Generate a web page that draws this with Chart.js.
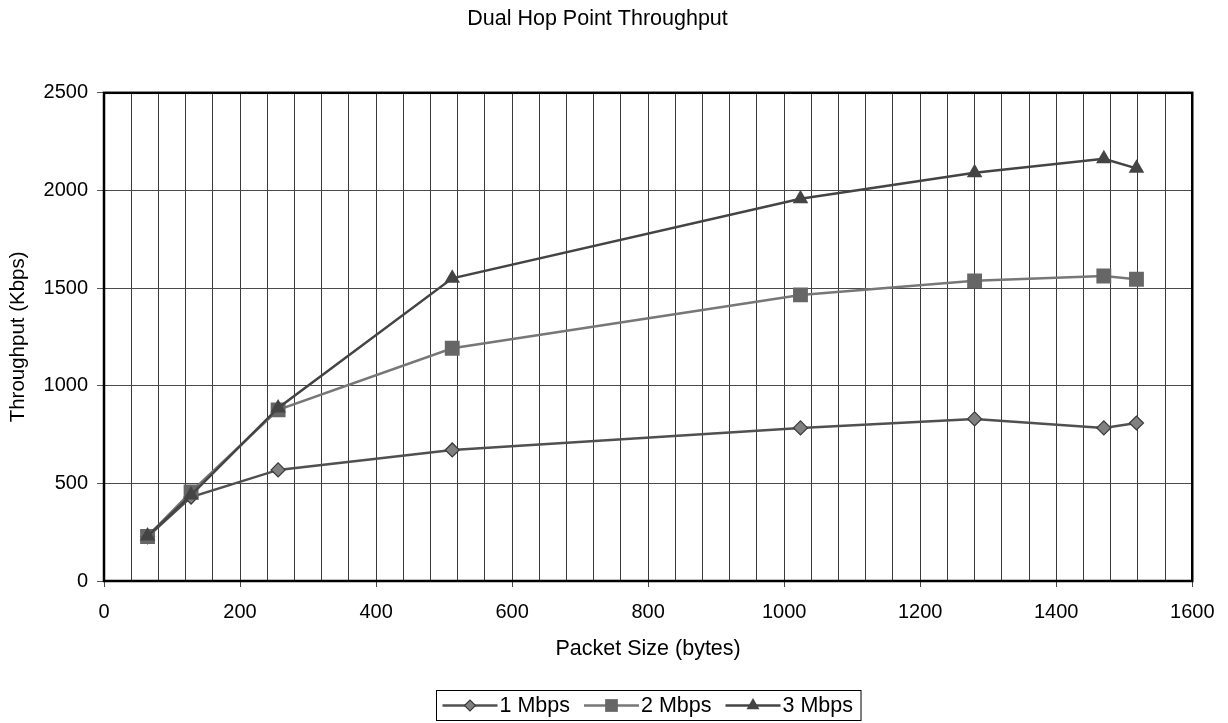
<!DOCTYPE html>
<html>
<head>
<meta charset="utf-8">
<script src="https://cdn.jsdelivr.net/npm/chart.js@4.4.1/dist/chart.umd.min.js"></script>
<style>
  html, body { margin: 0; padding: 0; background: #ffffff; }
  #wrap { width: 1228px; height: 723px; position: relative; }
</style>
</head>
<body>
<div id="wrap"><canvas id="c" width="1228" height="723"></canvas></div>
<script>
// ---- data ----
const packetSizes = [64, 128, 256, 512, 1024, 1280, 1470, 1518];
const seriesNames = ['1 Mbps', '2 Mbps', '3 Mbps'];
const mbps1 = [226, 430, 569, 671, 784, 830, 784, 809];
const mbps2 = [228, 456, 876, 1192, 1465, 1537, 1562, 1545];
const mbps3 = [230, 440, 886, 1550, 1957, 2090, 2162, 2113];
const xTickLabels = [0, 200, 400, 600, 800, 1000, 1200, 1400, 1600];
const yTickLabels = [0, 500, 1000, 1500, 2000, 2500];
const xGridStep = 40;

const FONT = "'Liberation Sans', Arial, sans-serif";

const styles = [
  { line: '#505050', fill: '#808080', border: '#3a3a3a', pointStyle: 'rectRot', radius: 7, legendRadius: 5.5, borderW: 1.2 },
  { line: '#777777', fill: '#666666', border: '#666666', pointStyle: 'rect', radius: 10.5, legendRadius: 9, borderW: 0 },
  { line: '#444444', fill: '#444444', border: '#444444', pointStyle: 'triangle', radius: 9, legendRadius: 7.5, borderW: 0 }
];
const seriesValues = [mbps1, mbps2, mbps3];

function toPoints(vals) { return packetSizes.map((x, i) => ({ x: x, y: vals[i] })); }

const datasets = seriesValues.map((vals, i) => ({
  label: seriesNames[i],
  data: toPoints(vals),
  borderColor: styles[i].line,
  borderWidth: 2.5,
  backgroundColor: styles[i].fill,
  pointStyle: styles[i].pointStyle,
  pointRadius: styles[i].radius,
  pointHoverRadius: styles[i].radius,
  pointBackgroundColor: styles[i].fill,
  pointBorderColor: styles[i].border,
  pointBorderWidth: styles[i].borderW,
  tension: 0,
  order: 3 - i
}));

const framePlugin = {
  id: 'frame',
  beforeDatasetsDraw(chart) {
    const { ctx, chartArea: a } = chart;
    ctx.save();
    ctx.strokeStyle = '#000000';
    ctx.lineWidth = 2.5;
    ctx.strokeRect(a.left, a.top, a.right - a.left, a.bottom - a.top);
    ctx.restore();
  }
};

const legendPlugin = {
  id: 'boxLegend',
  afterDraw(chart) {
    const ctx = chart.ctx;
    const a = chart.chartArea;
    ctx.save();
    ctx.font = '21.5px ' + FONT;
    const lineLen = 55, gapLT = 2, gapItem = 14, padL = 6, padR = 8;
    const widths = seriesNames.map(n => ctx.measureText(n).width);
    let total = padL + padR;
    widths.forEach((w, i) => { total += lineLen + gapLT + w + (i < widths.length - 1 ? gapItem : 0); });
    const cx = (a.left + a.right) / 2, top = 690.5, h = 30;
    const left = Math.round(cx - total / 2) + 0.5;
    ctx.strokeStyle = '#000000';
    ctx.lineWidth = 1;
    ctx.strokeRect(left, top, total, h);
    const cy = 705.5;
    let x = left + padL;
    seriesNames.forEach((name, i) => {
      const s = styles[i];
      ctx.strokeStyle = s.line;
      ctx.lineWidth = 2.5;
      ctx.beginPath();
      ctx.moveTo(x, cy);
      ctx.lineTo(x + lineLen, cy);
      ctx.stroke();
      ctx.fillStyle = s.fill;
      ctx.strokeStyle = s.border;
      ctx.lineWidth = s.borderW;
      Chart.helpers.drawPoint(ctx, { pointStyle: s.pointStyle, radius: s.legendRadius, rotation: 0, borderWidth: s.borderW }, x + lineLen / 2, cy);
      x += lineLen + gapLT;
      ctx.fillStyle = '#000000';
      ctx.textAlign = 'left';
      ctx.textBaseline = 'middle';
      ctx.fillText(name, x, cy + 1);
      x += widths[i] + gapItem;
    });
    ctx.restore();
  }
};

new Chart(document.getElementById('c'), {
  type: 'line',
  data: { datasets: datasets },
  options: {
    responsive: false,
    animation: false,
    layout: { padding: { top: 0, left: 0, right: 33, bottom: 0 } },
    plugins: {
      legend: { display: false },
      tooltip: { enabled: false },
      title: {
        display: true,
        text: 'Dual Hop Point Throughput',
        fullSize: true,
        color: '#000000',
        font: { family: FONT, size: 21.5, weight: 'normal' },
        padding: { top: 6, bottom: 61 }
      }
    },
    scales: {
      x: {
        type: 'linear',
        min: 0,
        max: 1600,
        afterFit(scale) { scale.height = 142; },
        ticks: {
          stepSize: xGridStep,
          autoSkip: false,
          maxRotation: 0,
          padding: 13.5,
          color: '#000000',
          font: { family: FONT, size: 20 },
          callback: (v) => xTickLabels.includes(v) ? String(v) : ''
        },
        grid: {
          color: '#3a3a3a',
          lineWidth: 1,
          tickLength: 6,
          tickColor: (c) => (c.tick && xTickLabels.includes(c.tick.value)) ? '#444444' : 'rgba(0,0,0,0)'
        },
        border: { display: false },
        title: {
          display: true,
          text: 'Packet Size (bytes)',
          color: '#000000',
          font: { family: FONT, size: 21.5 },
          padding: { top: 0, bottom: 61 }
        }
      },
      y: {
        type: 'linear',
        min: 0,
        max: 2500,
        afterFit(scale) { scale.width = 104; },
        afterBuildTicks(scale) { scale.ticks = yTickLabels.map(v => ({ value: v })); },
        ticks: {
          padding: 9,
          color: '#000000',
          font: { family: FONT, size: 20 },
          callback: (v) => String(v)
        },
        grid: {
          color: '#4a4a4a',
          lineWidth: 1,
          tickLength: 7,
          tickColor: '#555555'
        },
        border: { display: false },
        title: {
          display: true,
          text: 'Throughput (Kbps)',
          color: '#000000',
          font: { family: FONT, size: 20.5 },
          padding: { top: 6, bottom: 0 }
        }
      }
    }
  },
  plugins: [framePlugin, legendPlugin]
});
</script>
</body>
</html>
